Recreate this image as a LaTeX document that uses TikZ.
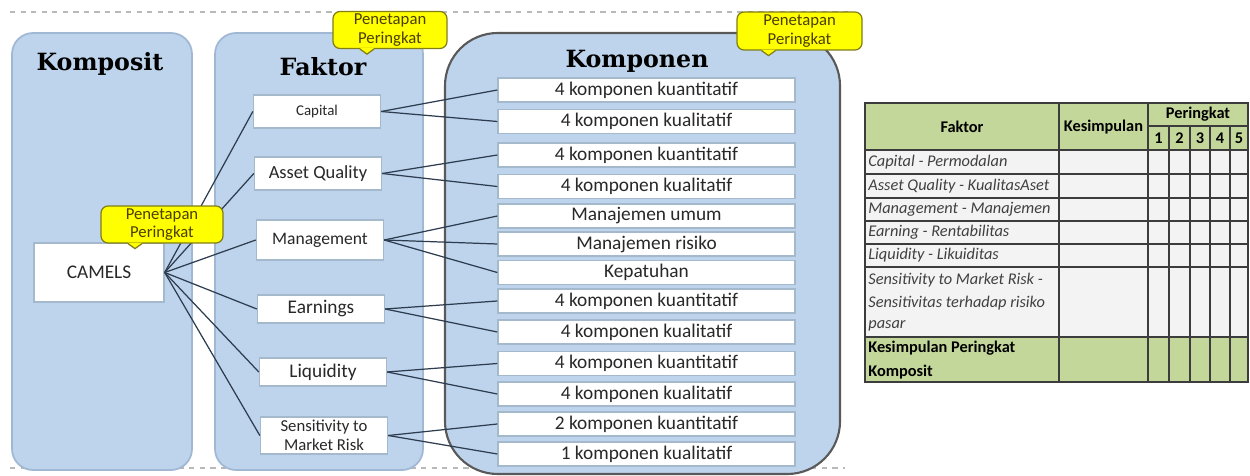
\documentclass[tikz,border=0pt]{standalone}
\usepackage{fontspec}
\setmainfont{Carlito}
\newfontfamily\titlefont{DejaVu Serif}
\usetikzlibrary{calc}
\definecolor{panelfill}{RGB}{190,212,236}
\definecolor{paneledge}{RGB}{160,184,212}
\definecolor{boxedge}{RGB}{165,185,205}
\definecolor{connc}{RGB}{45,60,78}
\definecolor{callfill}{RGB}{255,255,0}
\definecolor{calledge}{RGB}{130,125,20}
\definecolor{calltext}{RGB}{75,62,0}
\definecolor{dashc}{RGB}{185,185,185}
\definecolor{tgreen}{RGB}{196,215,155}
\definecolor{trow}{RGB}{243,243,243}
\definecolor{tline}{RGB}{60,60,60}
\definecolor{ttext}{RGB}{64,64,64}
\definecolor{txt}{RGB}{40,40,40}
\begin{document}
\begin{tikzpicture}[x=0.02cm,y=-0.02cm,
  panel/.style={fill=panelfill,draw=paneledge,line width=1pt},
  bigpanel/.style={fill=panelfill,draw=black!65,line width=1.2pt},
  title/.style={font=\titlefont\bfseries\fontsize{13.5}{16}\selectfont,text=black},
  fbox/.style={draw=boxedge,fill=white,line width=0.8pt,minimum width=2.54cm,inner sep=1pt,text=txt,align=center},
  cbox/.style={draw=boxedge,fill=white,line width=0.8pt,minimum width=5.94cm,minimum height=0.48cm,inner sep=0pt,text=txt,font=\fontsize{11}{13}\selectfont},
  conn/.style={draw=connc,line width=0.7pt},
  callout/.style={draw=calledge,fill=callfill,line width=0.7pt,rounded corners=4pt,align=center,text=calltext,font=\fontsize{9.5}{10.5}\selectfont,inner sep=1pt},
  dashl/.style={draw=dashc,dashed,line width=0.6pt},
  tcell/.style={anchor=west,inner sep=0pt,text=ttext,font=\fontsize{9.3}{11}\selectfont\itshape},
  thead/.style={inner sep=0pt,text=black,font=\fontsize{9.3}{11}\selectfont\bfseries},
  tgrid/.style={draw=tline,line width=0.7pt}
]
\useasboundingbox (0,0) rectangle (1250,476);

% dashed guide lines
\draw[dashl] (10,12) -- (850,12);
\draw[dashl] (10,468) -- (845,468);

% panels
\draw[panel,rounded corners=12pt] (12,33) rectangle (192,470);
\draw[panel,rounded corners=12pt] (215,33) rectangle (423,470);
\draw[bigpanel,rounded corners=30pt] (445,33) rectangle (840,474);

% titles
\node[title] (tkomposit) at (100,64) {Komposit};
\node[title] (tfaktor) at (323,67) {Faktor};
\node[title] (tkomponen) at (637,61) {Komponen};

% CAMELS
\node[fbox,minimum width=2.6cm,minimum height=1.18cm,font=\fontsize{11}{13}\selectfont] (camels) at (99,272.5) {CAMELS};

% factor boxes
\node[fbox,minimum height=0.66cm,font=\fontsize{8.5}{10}\selectfont] (capital) at (317,111.5) {Capital};
\node[fbox,minimum height=0.66cm,font=\fontsize{10.5}{12}\selectfont] (asset) at (318,173.5) {Asset Quality};
\node[fbox,minimum height=0.80cm,font=\fontsize{10}{12}\selectfont] (mgmt) at (320,240) {Management};
\node[fbox,minimum height=0.56cm,font=\fontsize{11}{13}\selectfont] (earn) at (321,309) {Earnings};
\node[fbox,minimum height=0.56cm,font=\fontsize{11}{13}\selectfont] (liq) at (323,372) {Liquidity};
\node[fbox,minimum height=0.74cm,font=\fontsize{9.5}{11}\selectfont] (sens) at (324,435.5) {Sensitivity to\\Market Risk};

% component boxes
\node[cbox] (k1) at (646.5,90) {4 komponen kuantitatif};
\node[cbox] (k2) at (646.5,121.5) {4 komponen kualitatif};
\node[cbox] (k3) at (646.5,155) {4 komponen kuantitatif};
\node[cbox] (k4) at (646.5,186.5) {4 komponen kualitatif};
\node[cbox] (k5) at (646.5,216) {Manajemen umum};
\node[cbox] (k6) at (646.5,244) {Manajemen risiko};
\node[cbox] (k7) at (646.5,272.5) {Kepatuhan};
\node[cbox] (k8) at (646.5,301) {4 komponen kuantitatif};
\node[cbox] (k9) at (646.5,332) {4 komponen kualitatif};
\node[cbox] (k10) at (646.5,363.5) {4 komponen kuantitatif};
\node[cbox] (k11) at (646.5,394) {4 komponen kualitatif};
\node[cbox] (k12) at (646.5,424) {2 komponen kuantitatif};
\node[cbox] (k13) at (646.5,454) {1 komponen kualitatif};

% connectors
\foreach \f in {capital,asset,mgmt,earn,liq,sens}
  \draw[conn] (camels.east) -- (\f.west);
\draw[conn] (capital.east) -- (k1.west);
\draw[conn] (capital.east) -- (k2.west);
\draw[conn] (asset.east) -- (k3.west);
\draw[conn] (asset.east) -- (k4.west);
\draw[conn] (mgmt.east) -- (k5.west);
\draw[conn] (mgmt.east) -- (k6.west);
\draw[conn] (mgmt.east) -- (k7.west);
\draw[conn] (earn.east) -- (k8.west);
\draw[conn] (earn.east) -- (k9.west);
\draw[conn] (liq.east) -- (k10.west);
\draw[conn] (liq.east) -- (k11.west);
\draw[conn] (sens.east) -- (k12.west);
\draw[conn] (sens.east) -- (k13.west);

% callouts
\node[callout,minimum width=2.28cm,minimum height=0.74cm] (c1) at (390,30) {Penetapan\\Peringkat};
\node[callout,minimum width=2.5cm,minimum height=0.76cm] (c2) at (799.5,31) {Penetapan\\Peringkat};
\node[callout,minimum width=2.44cm,minimum height=0.74cm] (c3) at (162,224.5) {Penetapan\\Peringkat};
\foreach \c/\dx in {c1/-23,c2/-31,c3/-27}{
  \fill[callfill] ($(\c.south)+(\dx-7,-1)$) -- ($(\c.south)+(\dx,5)$) -- ($(\c.south)+(\dx+7,-1)$) -- cycle;
  \draw[draw=calledge,line width=0.7pt] ($(\c.south)+(\dx-7,0)$) -- ($(\c.south)+(\dx,5)$) -- ($(\c.south)+(\dx+7,0)$);
}

% ---------- table ----------
\fill[tgreen] (865,103) rectangle (1248,150);
\fill[trow] (865,150) rectangle (1248,337);
\fill[tgreen] (865,337) rectangle (1248,382);
% horizontal lines
\foreach \yy in {150,174,198,221,244,267,337}
  \draw[tgrid] (865,\yy) -- (1248,\yy);
\draw[tgrid] (1148,126) -- (1248,126);
% vertical lines
\draw[tgrid] (1059,103) -- (1059,382);
\draw[tgrid] (1148,103) -- (1148,382);
\foreach \xx in {1169,1190,1210,1230}
  \draw[tgrid] (\xx,126) -- (\xx,382);
\draw[tgrid,line width=1pt] (865,103) rectangle (1248,382);

\node[thead] (hfaktor) at (962,127) {Faktor};
\node[thead] (hkes) at (1103.5,127) {Kesimpulan};
\node[thead] (hper) at (1198,114) {Peringkat};
\node[thead] (h1) at (1158.5,138.5) {1};
\node[thead] (h2) at (1179.5,138.5) {2};
\node[thead] (h3) at (1200,138.5) {3};
\node[thead] (h4) at (1220,138.5) {4};
\node[thead] (h5) at (1239,138.5) {5};

\node[tcell] (r1) at (868,162) {Capital - Permodalan};
\node[tcell] (r2) at (868,186) {Asset Quality - KualitasAset};
\node[tcell] (r3) at (868,209.5) {Management - Manajemen};
\node[tcell] (r4) at (868,232.5) {Earning - Rentabilitas};
\node[tcell] (r5) at (868,255.5) {Liquidity - Likuiditas};
\node[tcell] (r6a) at (868,280) {Sensitivity to Market Risk -};
\node[tcell] (r6b) at (868,303) {Sensitivitas terhadap risiko};
\node[tcell] (r6c) at (868,326) {pasar};
\node[tcell,font=\fontsize{9.3}{11}\selectfont\bfseries,text=black] (r7a) at (868,348) {Kesimpulan Peringkat};
\node[tcell,font=\fontsize{9.3}{11}\selectfont\bfseries,text=black] (r7b) at (868,372) {Komposit};
\end{tikzpicture}
\end{document}
